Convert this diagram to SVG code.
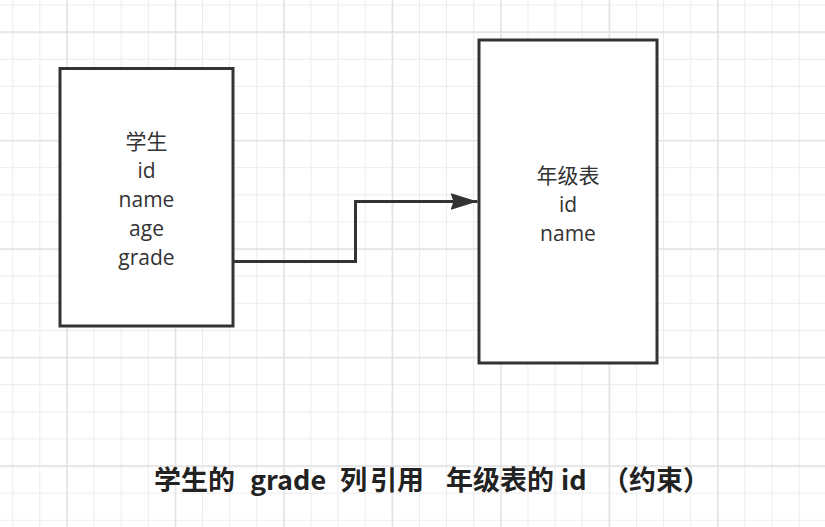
<svg xmlns="http://www.w3.org/2000/svg" width="825" height="527" viewBox="0 0 825 527">
  <style>
    .box { fill: #ffffff; stroke: #333333; stroke-width: 3; }
    .lbl { font-family: "Open Sans", "Noto Sans CJK SC", sans-serif; font-size: 21px; fill: #333333; text-anchor: middle; }
    .cjk { font-family: "Noto Sans CJK SC", sans-serif; }
    .title { font-family: "Noto Sans CJK SC", "Noto Sans", sans-serif; font-size: 27px; font-weight: bold; fill: #222222; }
    .edge { fill: none; stroke: #333333; stroke-width: 3; }
  </style>
  <defs>
    <pattern id="minor" patternUnits="userSpaceOnUse" x="12.2" y="4.5" width="27.12" height="27.12">
      <rect x="0" y="0" width="1" height="27.12" fill="#ececec"/>
      <rect x="0" y="0" width="27.12" height="1" fill="#ececec"/>
    </pattern>
    <pattern id="major" patternUnits="userSpaceOnUse" x="66.2" y="31.4" width="108.48" height="108.48">
      <rect x="0" y="0" width="1.5" height="108.48" fill="#e2e2e2"/>
      <rect x="0" y="0" width="108.48" height="1.5" fill="#e2e2e2"/>
    </pattern>
    <marker id="arrow" markerUnits="userSpaceOnUse" markerWidth="30" markerHeight="20" refX="27" refY="8.5" orient="auto">
      <path d="M0,0 L27,8.5 L0,17 L3,8.5 z" fill="#333333"/>
    </marker>
  </defs>
  <rect x="0" y="0" width="825" height="527" fill="#ffffff"/>
  <rect x="0" y="0" width="825" height="527" fill="url(#minor)"/>
  <rect x="0" y="0" width="825" height="527" fill="url(#major)"/>

  <g id="edges">
    <path class="edge" d="M233,261.5 H355.5 V201.5 H477.5" marker-end="url(#arrow)"/>
  </g>

  <g id="student">
    <rect class="box" x="60" y="68.5" width="173" height="257.5"/>
    <text class="lbl"><tspan class="cjk" x="146.5" y="149">学生</tspan><tspan x="146.5" y="178">id</tspan><tspan x="146.5" y="207">name</tspan><tspan x="146.5" y="235.5">age</tspan><tspan x="146.5" y="264.5">grade</tspan></text>
  </g>

  <g id="grade-table">
    <rect class="box" x="479" y="40" width="178" height="323"/>
    <text class="lbl"><tspan class="cjk" x="568" y="182.5">年级表</tspan><tspan x="568" y="211.5">id</tspan><tspan x="568" y="240.5">name</tspan></text>
  </g>

  <g id="caption">
    <text class="title" y="490"><tspan x="154">学生的</tspan><tspan x="250">grade</tspan><tspan x="340">列</tspan><tspan x="370">引用</tspan><tspan x="446">年级表的</tspan><tspan x="561">id</tspan><tspan x="602">（约束）</tspan></text>
  </g>
</svg>
